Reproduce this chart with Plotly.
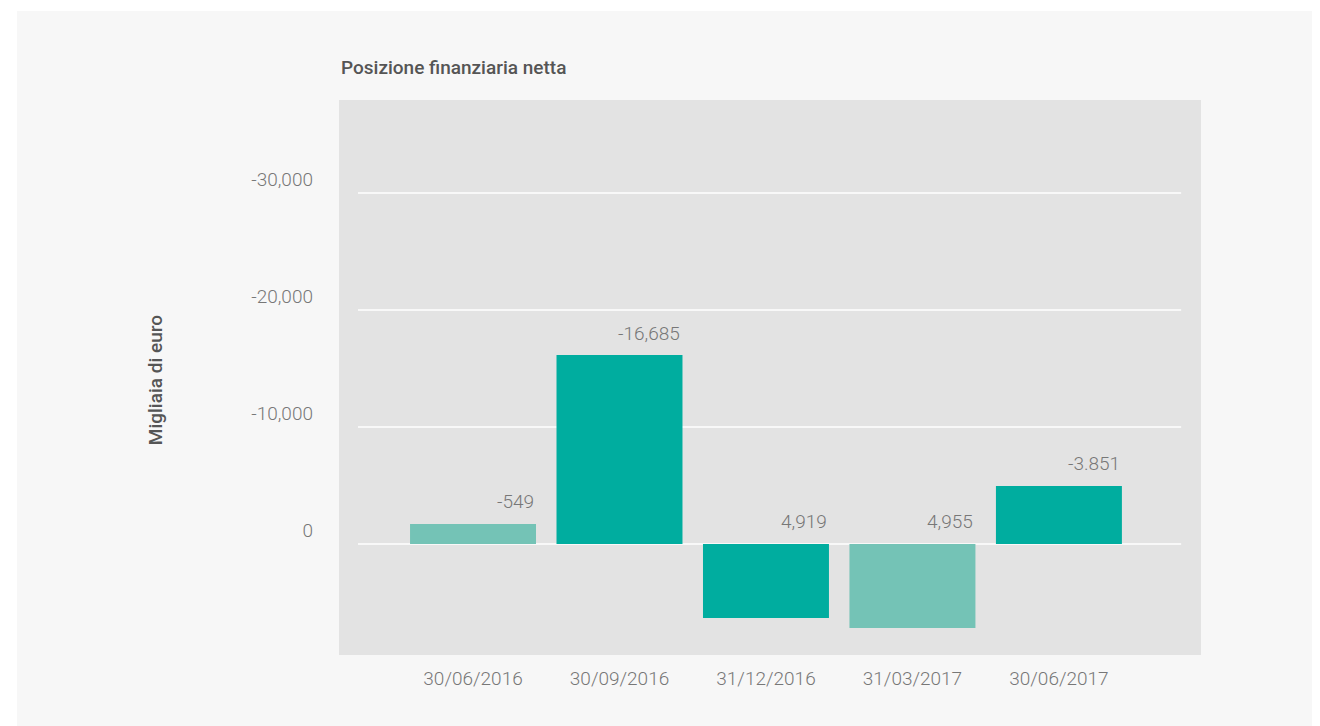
import plotly.graph_objects as go

dates = ['30/06/2016', '30/09/2016', '31/12/2016', '31/03/2017', '30/06/2017']
values = [-1710, -16150, 6320, 7180, -4960]  # bar heights as drawn
labels = ['-549', '-16,685', '4,919', '4,955', '-3.851']  # label texts as printed
bar_colors = ['#74c3b6', '#00ad9f', '#00ad9f', '#74c3b6', '#00ad9f']
grid_vals = [-30000, -20000, -10000, 0]
grid_text = ['-30,000', '-20,000', '-10,000', '0']

x_pos = list(range(len(dates)))

fig = go.Figure()
fig.add_trace(go.Bar(x=x_pos, y=values, marker=dict(color=bar_colors, line=dict(width=0)),
                     hoverinfo='skip', showlegend=False))

# value labels, right-aligned with the bar edge, sitting above bar top / zero line
for i, (v, t) in enumerate(zip(values, labels)):
    fig.add_annotation(x=i + 0.43, y=min(v, 0), text=t, showarrow=False,
                       xanchor='right', yanchor='middle', yshift=22,
                       font=dict(family='Roboto', size=19, color='#777777', weight=300))

# container panel + plot area background (paper shapes sit under everything)
fig.add_shape(type='rect', xref='paper', yref='paper', x0=-0.3735, x1=1.2, y0=-0.2, y1=1.1604,
              fillcolor='#f7f7f7', line=dict(width=0), layer='below')
fig.add_shape(type='rect', xref='paper', yref='paper', x0=0, x1=1, y0=0, y1=1,
              fillcolor='#e3e3e3', line=dict(width=0), layer='below')

# shortened gridlines
for g in grid_vals:
    fig.add_shape(type='line', xref='paper', yref='y', x0=0.022, x1=0.977, y0=g, y1=g,
                  line=dict(color='white', width=1.5), layer='below')

fig.add_annotation(xref='paper', yref='paper', x=0, y=1.0577, text='Posizione finanziaria netta',
                   showarrow=False, xanchor='left', yanchor='middle',
                   font=dict(family='Roboto', size=19, color='#555555', weight=500))
fig.add_annotation(xref='paper', yref='paper', x=-0.2135, y=0.495, text='Migliaia di euro',
                   showarrow=False, textangle=-90, xanchor='center', yanchor='middle',
                   font=dict(family='Roboto', size=19, color='#555555', weight=500))

fig.update_layout(
    width=1320, height=726,
    margin=dict(l=331, r=127, t=92, b=79),
    paper_bgcolor='white', plot_bgcolor='#e3e3e3',
    bargap=0.14,
    xaxis=dict(range=[-0.915, 4.97], tickvals=x_pos, ticktext=dates, showgrid=False,
               zeroline=False, ticks='', ticklabelstandoff=10,
               tickfont=dict(family='Roboto', size=19, color='#777777', weight=300)),
    yaxis=dict(range=[9490, -37950], tickvals=grid_vals, ticktext=grid_text, showgrid=False,
               zeroline=False, ticks='', ticklabelstandoff=25, ticklabelshift=14,
               tickfont=dict(family='Roboto', size=19, color='#777777', weight=300)),
)

fig.write_html('out.html')
